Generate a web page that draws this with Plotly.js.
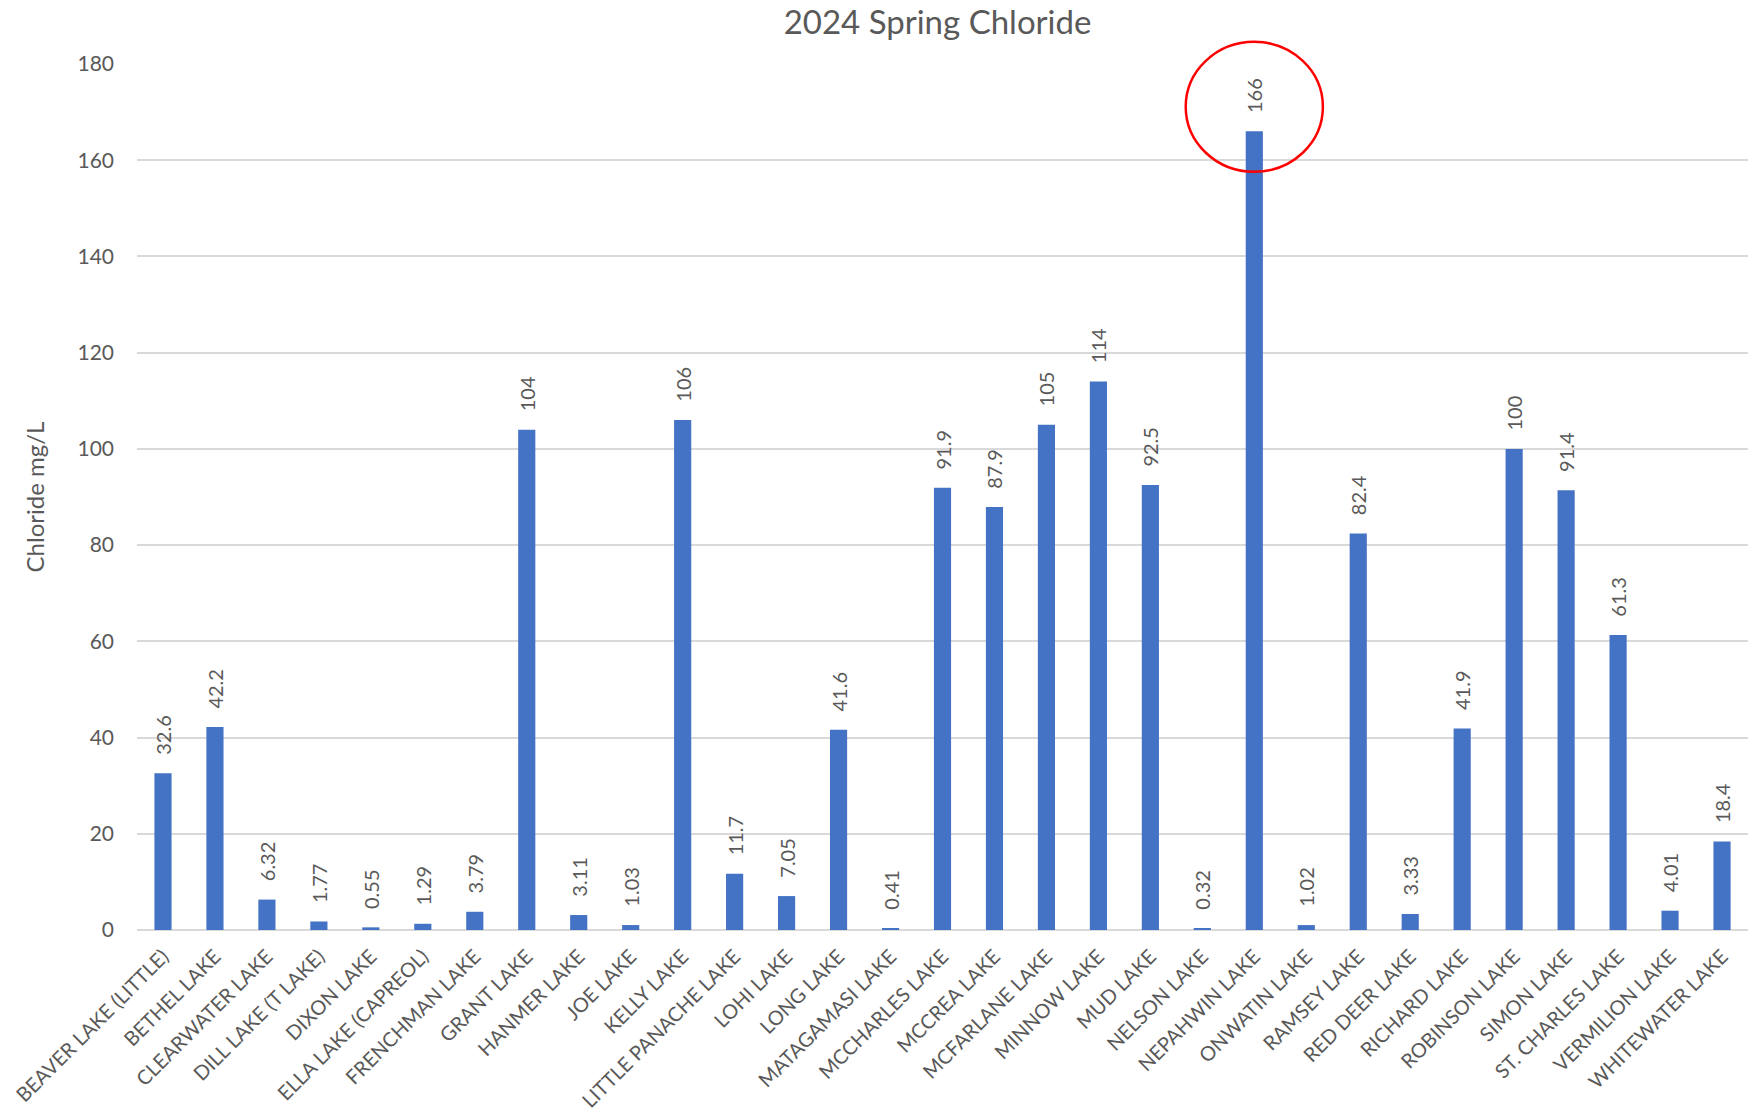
<!DOCTYPE html>
<html>
<head>
<meta charset="utf-8">
<script src="https://cdn.plot.ly/plotly-3.0.1.min.js"></script>
<style>
  html, body { margin: 0; padding: 0; background: #fff; }
  #myDiv { width: 1759px; height: 1116px; }
</style>
</head>
<body>
<div id="myDiv"></div>
<script>
var lakes = [
  'BEAVER LAKE (LITTLE)', 'BETHEL LAKE', 'CLEARWATER LAKE', 'DILL LAKE (T LAKE)',
  'DIXON LAKE', 'ELLA LAKE (CAPREOL)', 'FRENCHMAN LAKE', 'GRANT LAKE', 'HANMER LAKE',
  'JOE LAKE', 'KELLY LAKE', 'LITTLE PANACHE LAKE', 'LOHI LAKE', 'LONG LAKE',
  'MATAGAMASI LAKE', 'MCCHARLES LAKE', 'MCCREA LAKE', 'MCFARLANE LAKE', 'MINNOW LAKE',
  'MUD LAKE', 'NELSON LAKE', 'NEPAHWIN LAKE', 'ONWATIN LAKE', 'RAMSEY LAKE',
  'RED DEER LAKE', 'RICHARD LAKE', 'ROBINSON LAKE', 'SIMON LAKE', 'ST. CHARLES LAKE',
  'VERMILION LAKE', 'WHITEWATER LAKE'
];

var chloride = [
  32.6, 42.2, 6.32, 1.77, 0.55, 1.29, 3.79, 104, 3.11,
  1.03, 106, 11.7, 7.05, 41.6, 0.41, 91.9, 87.9, 105, 114,
  92.5, 0.32, 166, 1.02, 82.4, 3.33, 41.9, 100, 91.4, 61.3,
  4.01, 18.4
];

var yTicks = [0, 20, 40, 60, 80, 100, 120, 140, 160, 180];

var textColor = '#595959';
var font = 'Lato, "Open Sans", sans-serif';

// leading non-breaking spaces leave a gap between bar top and rotated label
var pad = '\u00a0\u00a0\u00a0';

var data = [{
  type: 'bar',
  x: lakes,
  y: chloride,
  marker: {color: '#4472C4'},
  text: chloride.map(function (v) { return pad + v; }),
  textposition: 'outside',
  textangle: -90,
  constraintext: 'none',
  textfont: {family: font, size: 20, color: textColor},
  cliponaxis: false,
  hoverinfo: 'x+y'
}];

// red circle round the highest bar
var yMax = yTicks[yTicks.length - 1];
var peakIdx = chloride.indexOf(Math.max.apply(null, chloride));
var cy = (chloride[peakIdx] + 5.1) / yMax;
var ry = 13.5 / yMax;

var layout = {
  width: 1759,
  height: 1116,
  paper_bgcolor: '#fff',
  plot_bgcolor: '#fff',
  font: {family: font, color: textColor},
  title: {
    text: '2024 Spring Chloride',
    font: {family: font, size: 33, color: textColor},
    x: 0.533,
    xanchor: 'center',
    y: 0.98,
    yanchor: 'middle'
  },
  margin: {l: 137, r: 11, t: 64, b: 186},
  bargap: 0.67,
  showlegend: false,
  xaxis: {
    type: 'category',
    tickangle: -45,
    tickfont: {family: font, size: 20, color: textColor},
    ticklabelstandoff: 10,
    showgrid: false,
    showline: false,
    ticks: '',
    automargin: false
  },
  yaxis: {
    range: [0, yMax],
    tickvals: yTicks,
    tickfont: {family: font, size: 21, color: textColor},
    ticklabelstandoff: 22,
    gridcolor: '#D9D9D9',
    gridwidth: 1.5,
    zeroline: true,
    zerolinecolor: '#D9D9D9',
    zerolinewidth: 1.5,
    showline: false,
    ticks: '',
    ticklen: 0,
    automargin: false,
    title: {
      text: 'Chloride mg/L',
      font: {family: font, size: 24, color: textColor},
      standoff: 26
    }
  },
  shapes: [{
    type: 'circle',
    xref: 'x',
    yref: 'paper',
    x0: peakIdx - 1.32,
    x1: peakIdx + 1.32,
    y0: cy - ry,
    y1: cy + ry,
    line: {color: '#FF0000', width: 2.5}
  }]
};

Plotly.newPlot('myDiv', data, layout, {displayModeBar: false});
</script>
</body>
</html>
